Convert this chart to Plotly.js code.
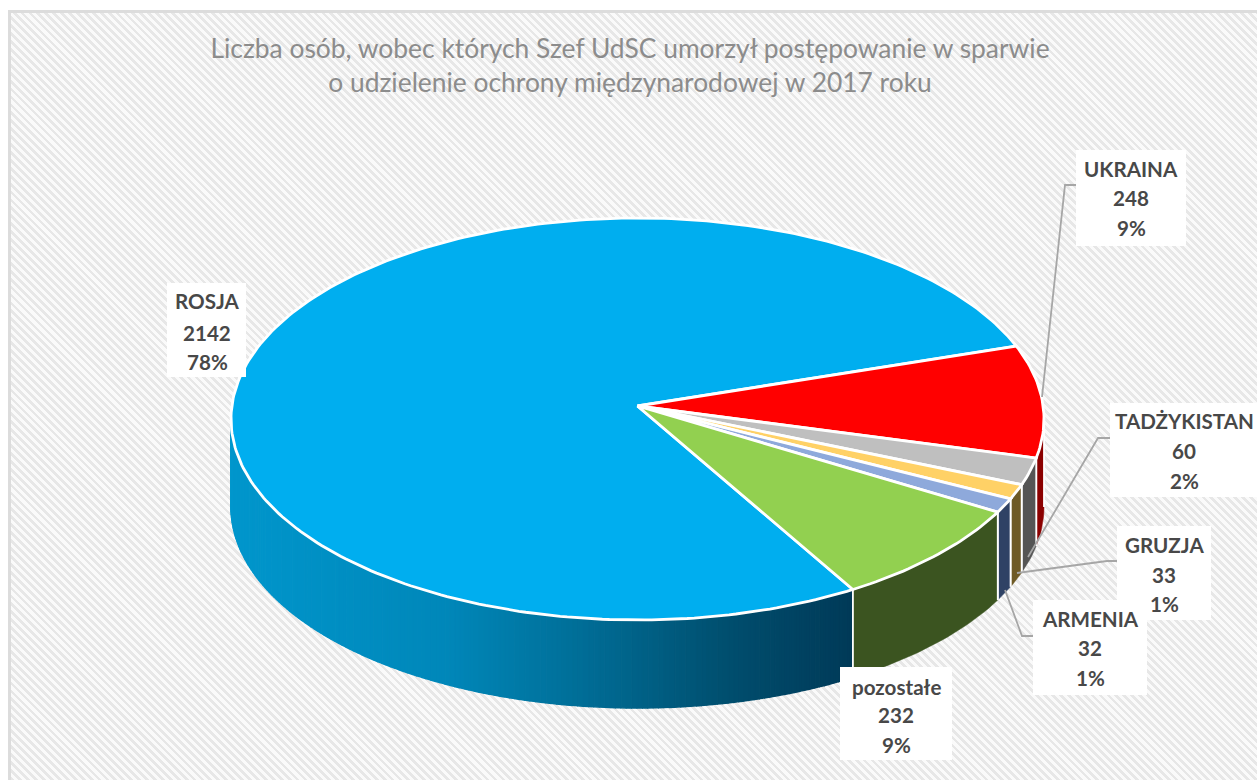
<!DOCTYPE html>
<html>
<head>
<meta charset="utf-8">
<script src="https://cdn.plot.ly/plotly-3.0.1.min.js"></script>
<style>
html,body{margin:0;padding:0;background:#fff;overflow:hidden}
#frame{position:absolute;left:8px;top:10px;width:1249px;height:770px;box-sizing:border-box;
 border-left:3px solid #dcdcdc;border-top:3px solid #dcdcdc;
 background:repeating-linear-gradient(45deg,#e7e7e7 0,#e7e7e7 2.7px,#fafafa 2.7px,#fafafa 5.6px)}
#chart{position:absolute;left:0;top:0;width:1257px;height:780px}
</style>
</head>
<body>
<div id="frame"></div>
<div id="chart"></div>
<script>
// ---- data ----
const categories = ['ROSJA','UKRAINA','TADŻYKISTAN','GRUZJA','ARMENIA','pozostałe'];
const values     = [2142, 248, 60, 33, 32, 232];
const percents   = ['78%','9%','2%','1%','1%','9%'];
const chartTitle = 'Liczba osób, wobec których Szef UdSC umorzył postępowanie w sparwie<br>o udzielenie ochrony międzynarodowej w 2017 roku';

// ---- styles ----
const topColors  = ['#00AEEF','#FF0000','#BFBFBF','#FFD166','#8EA9DB','#92D050'];
const wallColors = [null,'#8B0000','#555555','#6E5A25','#2F4265','#3B5420'];
// Rosja wall gradient, left edge to front edge
const rosjaStops = [[0,[0,150,204]],[0.35,[0,135,185]],[0.6,[0,105,145]],[0.8,[0,78,110]],[1,[0,58,88]]];

// ---- geometry in pixels of the picture ----
const W = 1257, H = 780;
const CX = 637.5, CY = 419, RX = 406.5, RY = 201;
const DEPTH = 88 / RY, APEX = 13 / RY;
const START = 148;

const labelBoxes = [[167,283,246,377],[1076,150,1186,246],[1110,403,1257,497],[1117,526,1211,620],[1033,600,1147,695],[840,667,952,760]];
const lineYs = [[301,333,362],[169,198,228],[421,451,481],[545,575,604],[619,648,678],[687,715,745]];
const labelXs = [207,1131,1184,1164,1090,896];
const leaders = [null,
 [[1042,397],[1065,185],[1076,185]],
 [[1028,557],[1098,438],[1110,438]],
 [[1017,573],[1107,561],[1117,561]],
 [[1005,590],[1022,636],[1033,636]],
 null];

const total = values.reduce((a,b)=>a+b,0);
const rad = d => d*Math.PI/180;
const px = d => Math.sin(rad(d));
const py = d => Math.cos(rad(d));
function arc(a,b){ const o=[]; const n=Math.max(2,Math.ceil(Math.abs(b-a))); for(let i=0;i<=n;i++) o.push(a+(b-a)*i/n); return o; }

let angle = START;
const wedges = values.map(v=>{ const a=angle, b=angle+v/total*360; angle=b; return [a,b]; });

function wallPoly(a,b){
  const t = arc(a,b);
  return {
    x: t.map(px).concat(t.slice().reverse().map(px)),
    y: t.map(py).concat(t.slice().reverse().map(d=>py(d)-DEPTH))
  };
}
function mix(f){
  for(let i=1;i<rosjaStops.length;i++){
    if(f<=rosjaStops[i][0]){
      const [f0,c0]=rosjaStops[i-1],[f1,c1]=rosjaStops[i];
      const k=(f-f0)/(f1-f0);
      return 'rgb('+c0.map((c,j)=>Math.round(c+(c1[j]-c)*k)).join(',')+')';
    }
  }
  return 'rgb(0,58,88)';
}

const traces = [];
// front walls: only the part of each wedge between 90° and 270° is visible
wedges.forEach(([a,b],i)=>{
  let wa=a, wb=b;
  if(i===0){ wb=270; }                   // Rosja: from its start to the left extreme
  if(i===1){ wa=90; wb=b-360; }          // Ukraina: from the right extreme
  if(i===0){
    const N=160;
    for(let s=0;s<N;s++){
      const b0=wb-(wb-wa)*s/N, a0=wb-(wb-wa)*(s+1)/N;
      // screen position drives the shading
      const f=((px(a0)+px(b0))/2 - px(270))/(px(wa)-px(270));
      const c=mix(Math.min(1,Math.max(0,f)));
      const p=wallPoly(a0,b0);
      traces.push({x:p.x,y:p.y,mode:'lines',fill:'toself',fillcolor:c,line:{color:c,width:1.5},hoverinfo:'skip',showlegend:false});
    }
  } else {
    const p=wallPoly(wa,wb);
    traces.push({x:p.x,y:p.y,mode:'lines',fill:'toself',fillcolor:wallColors[i],line:{color:wallColors[i],width:0.5},hoverinfo:'skip',showlegend:false});
    // white vertical edges
    [wa,wb].forEach(d=>{
      traces.push({x:[px(d),px(d)],y:[py(d),py(d)-DEPTH],mode:'lines',line:{color:'#fff',width:1.8},hoverinfo:'skip',showlegend:false});
    });
  }
});
// top faces
wedges.forEach(([a,b],i)=>{
  const t=arc(a,b);
  traces.push({
    x:[0].concat(t.map(px),[0]),
    y:[APEX].concat(t.map(py),[APEX]),
    mode:'lines',fill:'toself',fillcolor:topColors[i],
    line:{color:'#fff',width:2.8},
    name:categories[i],text:categories[i]+': '+values[i]+' ('+percents[i]+')',hoverinfo:'text',showlegend:false
  });
});

// paper-coordinate helpers
const X = p => p/W, Y = p => 1-p/H;
const shapes = [];
leaders.forEach(l=>{
  if(!l) return;
  shapes.push({type:'path',xref:'paper',yref:'paper',layer:'above',
    path:l.map((p,i)=>(i?'L':'M')+X(p[0])+','+Y(p[1])).join(' '),
    line:{color:'#A6A6A6',width:1.8}});
});
labelBoxes.forEach(b=>{
  shapes.push({type:'rect',xref:'paper',yref:'paper',layer:'above',
    x0:X(b[0]),x1:X(b[2]),y0:Y(b[1]),y1:Y(b[3]),fillcolor:'#fff',line:{width:0}});
});
const annotations=[];
categories.forEach((c,i)=>{
  [c,String(values[i]),percents[i]].forEach((t,j)=>{
    annotations.push({text:'<b>'+t+'</b>',xref:'paper',yref:'paper',x:X(labelXs[i]),y:Y(lineYs[i][j]),
      xanchor:'center',yanchor:'middle',showarrow:false,
      font:{family:'Lato, "Open Sans", sans-serif',size:20.6,color:'#484848'}});
  });
});

const layout = {
  width:W,height:H,
  margin:{l:0,r:0,t:0,b:0},
  paper_bgcolor:'rgba(0,0,0,0)',plot_bgcolor:'rgba(0,0,0,0)',
  showlegend:false,
  title:{text:chartTitle,x:630/W,xanchor:'center',y:1-58/H,yanchor:'middle',
    font:{family:'Lato, "Open Sans", sans-serif',size:26.4,color:'#8C8C8C'}},
  xaxis:{range:[(0-CX)/RX,(W-CX)/RX],visible:false,fixedrange:true},
  yaxis:{range:[(CY-H)/RY,CY/RY],visible:false,fixedrange:true},
  shapes:shapes,annotations:annotations
};
Plotly.newPlot('chart',traces,layout,{displayModeBar:false,responsive:false});
</script>
</body>
</html>
